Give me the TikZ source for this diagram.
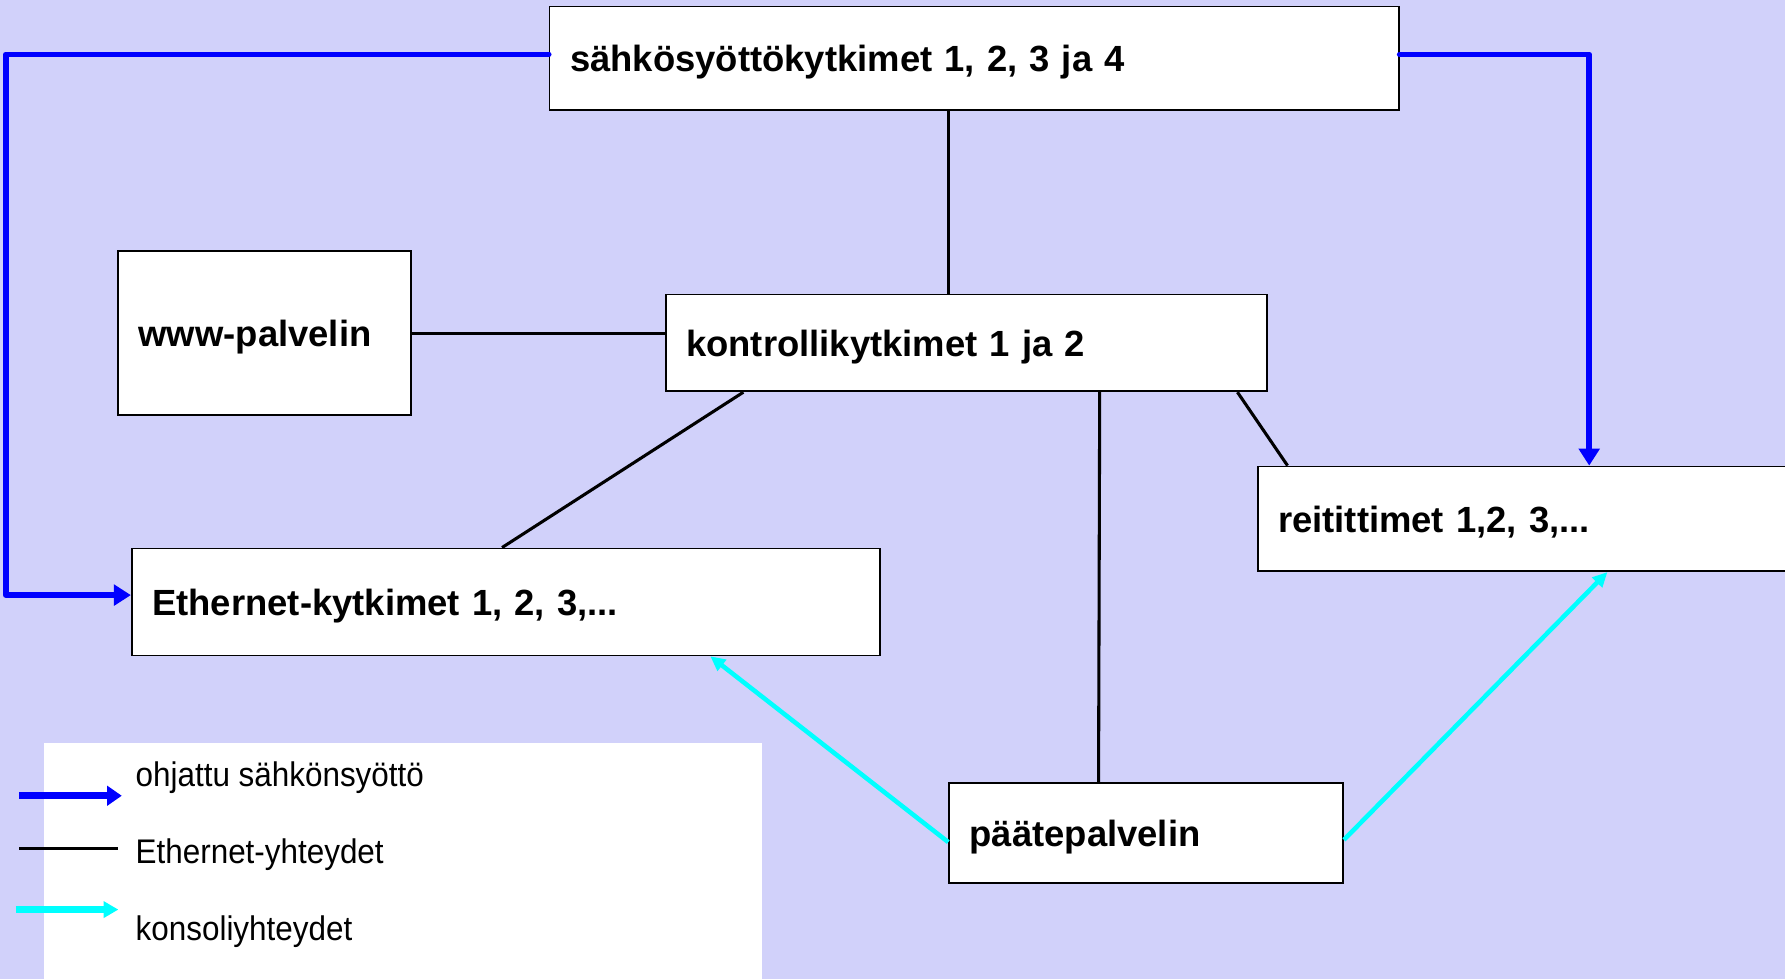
\documentclass[tikz,border=0pt]{standalone}
\usepackage{fontspec}
\setmainfont{Liberation Sans}
\newfontfamily\legfont[FakeStretch=0.92]{Liberation Sans}
\usetikzlibrary{arrows.meta}

\definecolor{bgcol}{RGB}{209,209,250}
\definecolor{pwrblue}{RGB}{0,0,255}
\definecolor{conscyan}{RGB}{0,255,255}

\tikzset{
  box/.style={draw=black, line width=1.5pt, fill=white, anchor=north west,
    inner xsep=18pt, inner ysep=0pt, align=left, text depth=0pt,
    font=\fontsize{32}{38}\selectfont\bfseries},
  eth/.style={draw=black, line width=2.7pt},
  power/.style={draw=pwrblue, line width=5pt, line cap=round, line join=round,
    -{Triangle[length=15pt,width=18pt]}},
  console/.style={draw=conscyan, line width=4pt,
    -{Triangle[length=13pt,width=12pt]}},
  legtext/.style={anchor=west, inner sep=0pt, text depth=0pt,
    font=\fontsize{30}{36}\legfont}
}

\begin{document}
\begin{tikzpicture}[x=1pt, y=-1pt]
	% Background
	\clip (0,0) rectangle (1568,860);
	\fill[bgcol] (0,0) rectangle (1568,860);

	% Boxes
	\node[box, minimum height=91pt, text width=710pt] (top) at (482,5) {sähkösyöttökytkimet 1, 2, 3 ja 4};
	\node[box, minimum height=144pt, text width=221pt] (www) at (103,220) {www-palvelin};
	\node[box, minimum height=85pt, text width=492pt] (kon) at (584,258) {kontrollikytkimet 1 ja 2};
	\node[box, minimum height=92pt, text width=464pt] (rei) at (1104,409) {reitittimet 1,2, 3,...};
	\node[box, minimum height=94pt, text width=621pt] (eth) at (115,481) {Ethernet-kytkimet 1, 2, 3,...};
	\node[box, minimum height=88pt, text width=310pt] (pp) at (833,687) {päätepalvelin};

	% Ethernet connections
	\draw[eth] ([xshift=351pt]top.south west) -- ([xshift=249pt]kon.north west);
	\draw[eth] (www.east) -- (www.east -| kon.west);
	\draw[eth] ([xshift=69pt]kon.south west) -- ([xshift=326pt]eth.north west);
	\draw[eth] ([xshift=382pt]kon.south west) -- ([xshift=132pt]pp.north west);
	\draw[eth] ([xshift=503pt]kon.south west) -- ([xshift=27pt]rei.north west);

	% Power feed
	\draw[power] ([yshift=3.5pt]top.west) -- ++(-477,0) |- ([yshift=6pt]eth.west);
	\draw[power] ([yshift=3.5pt]top.east) -| ([xshift=292pt]rei.north west);

	% Console connections
	\draw[console] ([yshift=-8pt]pp.west) -- ([xshift=509pt]eth.south west);
	\draw[console] ([yshift=-6pt]pp.east) -- ([xshift=308pt]rei.south west);

	% Legend
	\fill[white] (39,653) rectangle (669,870);
	\coordinate (lpwr) at (17,699);
	\coordinate (leth) at (17,745);
	\coordinate (lcon) at (14,799);
	\draw[power, line width=6pt, line cap=butt, -{Triangle[length=13pt,width=17pt]}] (lpwr) -- ++(90,0);
	\draw[eth] (leth) -- ++(87,0);
	\draw[console, line width=5.5pt, -{Triangle[length=13pt,width=14pt]}] (lcon) -- ++(90,0);
	\node[legtext] (tpwr) at (119,680) {ohjattu sähkönsyöttö};
	\node[legtext] (teth) at (119,748) {Ethernet-yhteydet};
	\node[legtext] (tcon) at (119,815) {konsoliyhteydet};
\end{tikzpicture}
\end{document}
